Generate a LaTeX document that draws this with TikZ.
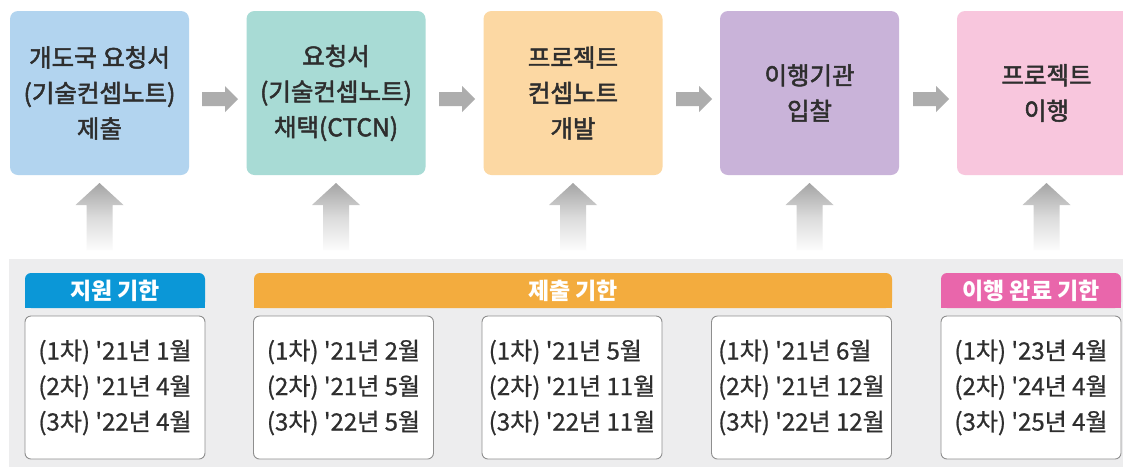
\documentclass[tikz,border=0pt]{standalone}
\usepackage{fontspec}
\setmainfont{Noto Sans CJK KR}
\newfontfamily\medfont{Noto Sans CJK KR}[FakeBold=2]
\newfontfamily\datefont{Noto Sans CJK KR}[FakeBold=0.8]
\usetikzlibrary{calc}
\definecolor{cA}{HTML}{B2D4EF}
\definecolor{cB}{HTML}{A8DBD5}
\definecolor{cC}{HTML}{FCD8A3}
\definecolor{cD}{HTML}{C9B3D9}
\definecolor{cE}{HTML}{F8C6DD}
\definecolor{hBlue}{HTML}{0B97D7}
\definecolor{hOrange}{HTML}{F3AC3E}
\definecolor{hPink}{HTML}{E966AB}
\definecolor{txt}{HTML}{2E2E2E}
\definecolor{bgGray}{HTML}{EDEDEE}
\definecolor{arrGray}{HTML}{ADADAD}
\definecolor{boxLine}{HTML}{8E8E8E}
\tikzset{
  stagebox/.style={minimum width=179pt, minimum height=164pt, rounded corners=8pt,
    align=center, text=txt, font=\medfont\fontsize{24.5}{35.5}\selectfont, inner sep=0pt},
  harrowfill/.style={fill=arrGray},
  varrowfill/.style={top color=arrGray!95!black, bottom color=white!96!arrGray, middle color=arrGray!45!white},
  hdr/.style={minimum height=35pt, inner sep=0pt, text=white,
    font=\fontsize{23}{25}\bfseries\selectfont},
  datebox/.style={draw=boxLine, line width=0.9pt, fill=white, rounded corners=6pt,
    minimum width=180pt, minimum height=143pt, inner sep=0pt},
  datetxt/.style={align=left, text=txt, font=\datefont\fontsize{24}{35.5}\selectfont, inner sep=0pt},
}
\newcommand{\harr}[1]{%
  \fill[harrowfill] ($(#1)+(-18,-7)$) -- ($(#1)+(5,-7)$) -- ($(#1)+(5,-13)$) -- ($(#1)+(18,0)$)
    -- ($(#1)+(5,13)$) -- ($(#1)+(5,7)$) -- ($(#1)+(-18,7)$) -- cycle;}
\newcommand{\varr}[1]{%
  \shade[varrowfill] ($(#1)+(0,-33.5)$) -- ($(#1)+(24,-11.5)$) -- ($(#1)+(13,-11.5)$) -- ($(#1)+(13,33.5)$)
    -- ($(#1)+(-13,33.5)$) -- ($(#1)+(-13,-11.5)$) -- ($(#1)+(-24,-11.5)$) -- cycle;}
\begin{document}
\begin{tikzpicture}[x=1pt,y=-1pt]
\clip (0,0) rectangle (1123,467);
\fill[white] (0,0) rectangle (1123,467);
\fill[bgGray] (9,259) rectangle (1123,467);

% top stage boxes
\node[stagebox, fill=cA] (b1) at (99.5,93) {개도국 요청서\\(기술컨셉노트)\\제출};
\node[stagebox, fill=cB] (b2) at (336,93) {요청서\\(기술컨셉노트)\\채택(CTCN)};
\node[stagebox, fill=cC] (b3) at (573,93) {프로젝트\\컨셉노트\\개발};
\node[stagebox, fill=cD] (b4) at (809.5,93) {이행기관\\입찰};
\node[stagebox, fill=cE] (b5) at (1046.5,93) {프로젝트\\이행};

% horizontal arrows
\coordinate (h1) at (220,99); \harr{h1}
\coordinate (h2) at (457,99); \harr{h2}
\coordinate (h3) at (694,99); \harr{h3}
\coordinate (h4) at (931,99); \harr{h4}

% vertical arrows
\coordinate (v1) at (99.5,216.5); \varr{v1}
\coordinate (v2) at (336,216.5); \varr{v2}
\coordinate (v3) at (573,216.5); \varr{v3}
\coordinate (v4) at (809.5,216.5); \varr{v4}
\coordinate (v5) at (1046.5,216.5); \varr{v5}

% headers
\coordinate (hA1) at (25,273); \coordinate (hA2) at (205,308);
\coordinate (hB1) at (254,273); \coordinate (hB2) at (892,308);
\coordinate (hC1) at (941,273); \coordinate (hC2) at (1121,308);
\fill[hBlue, rounded corners=6pt] (hA1) rectangle (hA2);
\fill[hBlue] (25,290) rectangle (hA2);
\fill[hOrange, rounded corners=6pt] (hB1) rectangle (hB2);
\fill[hOrange] (254,290) rectangle (hB2);
\fill[hPink, rounded corners=6pt] (hC1) rectangle (hC2);
\fill[hPink] (941,290) rectangle (hC2);
\node[hdr] (t1) at ($(hA1)!0.5!(hA2)$) {지원 기한};
\node[hdr] (t2) at ($(hB1)!0.5!(hB2)$) {제출 기한};
\node[hdr] (t3) at ($(hC1)!0.5!(hC2)$) {이행 완료 기한};

% date boxes
\node[datebox] (d1) at (115,387.5) {};
\node[datebox] (d2) at (343.5,387.5) {};
\node[datebox] (d3) at (572,387.5) {};
\node[datebox] (d4) at (801.5,387.5) {};
\node[datebox] (d5) at (1031,387.5) {};
\node[datetxt] (e1) at (d1) {(1차) '21년 1월\\(2차) '21년 4월\\(3차) '22년 4월};
\node[datetxt] (e2) at (d2) {(1차) '21년 2월\\(2차) '21년 5월\\(3차) '22년 5월};
\node[datetxt] (e3) at (d3) {(1차) '21년 5월\\(2차) '21년 11월\\(3차) '22년 11월};
\node[datetxt] (e4) at (d4) {(1차) '21년 6월\\(2차) '21년 12월\\(3차) '22년 12월};
\node[datetxt] (e5) at (d5) {(1차) '23년 4월\\(2차) '24년 4월\\(3차) '25년 4월};
\end{tikzpicture}
\end{document}
